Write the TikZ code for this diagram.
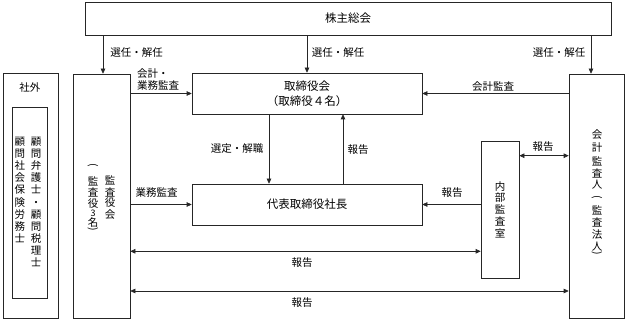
\documentclass[tikz,border=0pt]{standalone}
\usepackage{fontspec}
\setmainfont{Noto Sans CJK JP}
\usetikzlibrary{arrows.meta}
\newcommand{\vlp}{\rotatebox[origin=c]{-90}{(}}
\newcommand{\vrp}{\rotatebox[origin=c]{-90}{)}}
\newcommand{\smallthree}{{\fontsize{9}{10}\selectfont 3}}
\begin{document}
\begin{tikzpicture}[x=1pt,y=-1pt,
  box/.style={draw=black!85, line width=0.6pt, inner sep=0pt},
  arr/.style={draw=black!85, line width=0.6pt, -{Triangle[length=5pt,width=4.5pt]}},
  darr/.style={draw=black!85, line width=0.6pt, {Triangle[length=5pt,width=4.5pt]}-{Triangle[length=5pt,width=4.5pt]}},
  lbl/.style={font=\fontsize{10.5}{12}\selectfont, inner sep=0pt},
  btxt/.style={font=\fontsize{11.5}{15}\selectfont, align=center},
  vtxt/.style={font=\fontsize{10.5}{12}\selectfont, align=center, inner sep=0pt, anchor=north},
  vch/.style={font=\fontsize{10.5}{12}\selectfont, inner sep=0pt},
]
\useasboundingbox (0,0) rectangle (625,320);

% boxes
\node[box, btxt, minimum width=526pt, minimum height=33pt] (top) at (348,18.5) {株主総会};
\node[box, minimum width=55pt, minimum height=245pt] (shagai) at (30.5,195.5) {};
\node[box, minimum width=35pt, minimum height=191pt] (komon) at (29.5,202.5) {};
\node[box, minimum width=57pt, minimum height=244pt] (kansa) at (101.5,196) {};
\node[box, btxt, minimum width=230pt, minimum height=41pt] (tori) at (307,93.5) {取締役会\\（取締役４名）};
\node[box, btxt, minimum width=230pt, minimum height=41pt] (daihyo) at (307,204.5) {代表取締役社長};
\node[box, minimum width=38pt, minimum height=137pt] (naibu) at (500,209.5) {};
\node[box, minimum width=55pt, minimum height=244pt] (kaikei) at (596.5,196) {};

% vertical texts
\node[lbl] (shagaitxt) at (30,88) {社外};
\node[vtxt, font=\fontsize{10.5}{12.1}\selectfont] (komon1) at (36,137) {顧\\問\\弁\\護\\士\\・\\顧\\問\\税\\理\\士};
\node[vtxt, font=\fontsize{10.5}{12.1}\selectfont] (komon2) at (20,137) {顧\\問\\社\\会\\保\\険\\労\\務\\士};
\foreach \c/\y [count=\i] in {監/180,査/192,役/203,会/215}
  \node[vch] (kr\i) at (110,\y) {\c};
\foreach \c/\y [count=\i] in {\vlp/166.5,監/181,査/192.5,役/203.5,\smallthree/213,名/222.5,\vrp/230}
  \node[vch] (kl\i) at (93,\y) {\c};
\node[vtxt, font=\fontsize{10.5}{11.8}\selectfont] (naibutxt) at (500,181) {内\\部\\監\\査\\室};
\foreach \c/\y [count=\i] in {会/135,計/148,監/161,査/173,人/185,\vlp/198.5,監/210,査/222,法/235,人/247,\vrp/254.5}
  \node[vch] (kk\i) at (597,\y) {\c};

% arrows from shareholders meeting
\draw[arr] ([xshift=1.5pt]kansa.north |- top.south) -- ([xshift=1.5pt]kansa.north);
\draw[arr] (top.south -| tori.north) -- (tori.north);
\draw[arr] ([xshift=-5.5pt]kaikei.north |- top.south) -- ([xshift=-5.5pt]kaikei.north);
\node[lbl] (l1) at (136.5,53) {選任・解任};
\node[lbl] (l2) at (338,53) {選任・解任};
\node[lbl] (l3) at (559,53) {選任・解任};

% audit board arrows
\draw[arr] (tori.west -| kansa.east) -- (tori.west);
\node[lbl, align=left, anchor=west] (l4) at (137,80) {会計・\\業務監査};
\draw[arr] (daihyo.west -| kansa.east) -- (daihyo.west);
\node[lbl] (l5) at (156.5,193) {業務監査};

% accounting auditor
\draw[arr] (tori.east -| kaikei.west) -- (tori.east);
\node[lbl] (l6) at (493,87) {会計監査};

% board <-> president
\draw[arr] ([xshift=-38pt]tori.south) -- ([xshift=-38pt]tori.south |- daihyo.north);
\node[lbl] (l7) at (237,149) {選定・解職};
\draw[arr] ([xshift=36pt]tori.south |- daihyo.north) -- ([xshift=36pt]tori.south);
\node[lbl] (l8) at (358,150) {報告};

% internal audit
\draw[arr] (daihyo.east -| naibu.west) -- (daihyo.east);
\node[lbl] (l9) at (452,193) {報告};
\coordinate (ya) at ([yshift=-15pt]naibu.north east);
\draw[darr] (ya) -- (ya -| kaikei.west);
\node[lbl] (l10) at (543,147) {報告};

% bottom report lines
\coordinate (yb) at ([yshift=27pt]naibu.south west);
\draw[darr] (yb -| kansa.east) -- (yb);
\node[lbl] (l11) at (302,263) {報告};
\coordinate (yc) at ([yshift=-95pt]kansa.east);
\draw[darr] (yc) -- (yc -| kaikei.west);
\node[lbl] (l12) at (302,303) {報告};
\end{tikzpicture}
\end{document}
